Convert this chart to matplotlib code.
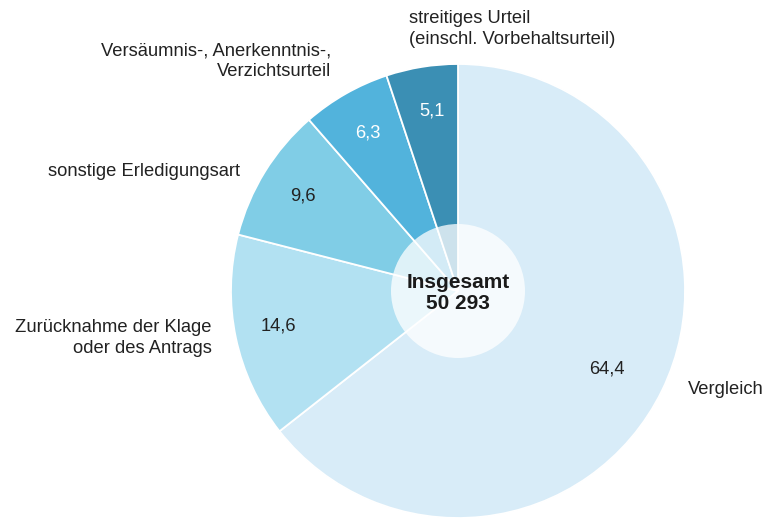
import matplotlib.pyplot as plt
from matplotlib.patches import Circle

plt.rcParams['font.family'] = ['Liberation Sans', 'DejaVu Sans']

# Daten
kategorien = ['Vergleich', 'Zurücknahme der Klage\noder des Antrags', 'sonstige Erledigungsart',
              'Versäumnis-, Anerkenntnis-,\nVerzichtsurteil', 'streitiges Urteil\n(einschl. Vorbehaltsurteil)']
anteile = [64.4, 14.6, 9.6, 6.3, 5.1]
werte_text = ['64,4', '14,6', '9,6', '6,3', '5,1']
farben = ['#d8ecf8', '#b2e1f2', '#80cde6', '#52b3dc', '#3b8fb4']
textfarben = ['#222222', '#222222', '#222222', 'white', 'white']
gesamt = '50 293'

fig = plt.figure(figsize=(7.65, 5.18), dpi=100)
ax = fig.add_axes([0, 0, 1, 1])

cx, cy, r = 458, 227, 227
wedges, _ = ax.pie(anteile, colors=farben, startangle=90, counterclock=False,
                   center=(cx, cy), radius=r, frame=True,
                   wedgeprops=dict(edgecolor='white', linewidth=1.3))
ax.set_xlim(0, 765)
ax.set_ylim(0, 518)
ax.set_aspect('equal')
ax.axis('off')

fs = 13.2
# Werte in den Segmenten
wert_pos = [(607, 518 - 369), (278, 518 - 326), (303, 518 - 196), (368, 518 - 133), (432, 518 - 111)]
for (x, y), t, c in zip(wert_pos, werte_text, textfarben):
    ax.text(x, y, t, ha='center', va='center', fontsize=fs, color=c)

# Beschriftungen aussen
ax.text(688, 518 - 389, kategorien[0], ha='left', va='center', fontsize=fs, color='#222222')
ax.text(212, 518 - 338, kategorien[1], ha='right', va='center', fontsize=fs, color='#222222',
        multialignment='right', linespacing=1.3)
ax.text(240, 518 - 171, kategorien[2], ha='right', va='center', fontsize=fs, color='#222222')
ax.text(331, 518 - 61, kategorien[3], ha='right', va='center', fontsize=fs, color='#222222',
        multialignment='right', linespacing=1.3)
ax.text(409, 518 - 29, kategorien[4], ha='left', va='center', fontsize=fs, color='#222222',
        linespacing=1.3)

# Mittelkreis
ax.add_patch(Circle((cx, cy), 67, facecolor='white', alpha=0.75, edgecolor='none', zorder=3))
ax.text(cx, cy - 2, 'Insgesamt\n' + gesamt, ha='center', va='center', fontsize=15,
        fontweight='bold', color='#1a1a1a', linespacing=1.1, zorder=4)

fig.savefig('out.png', dpi=100)
